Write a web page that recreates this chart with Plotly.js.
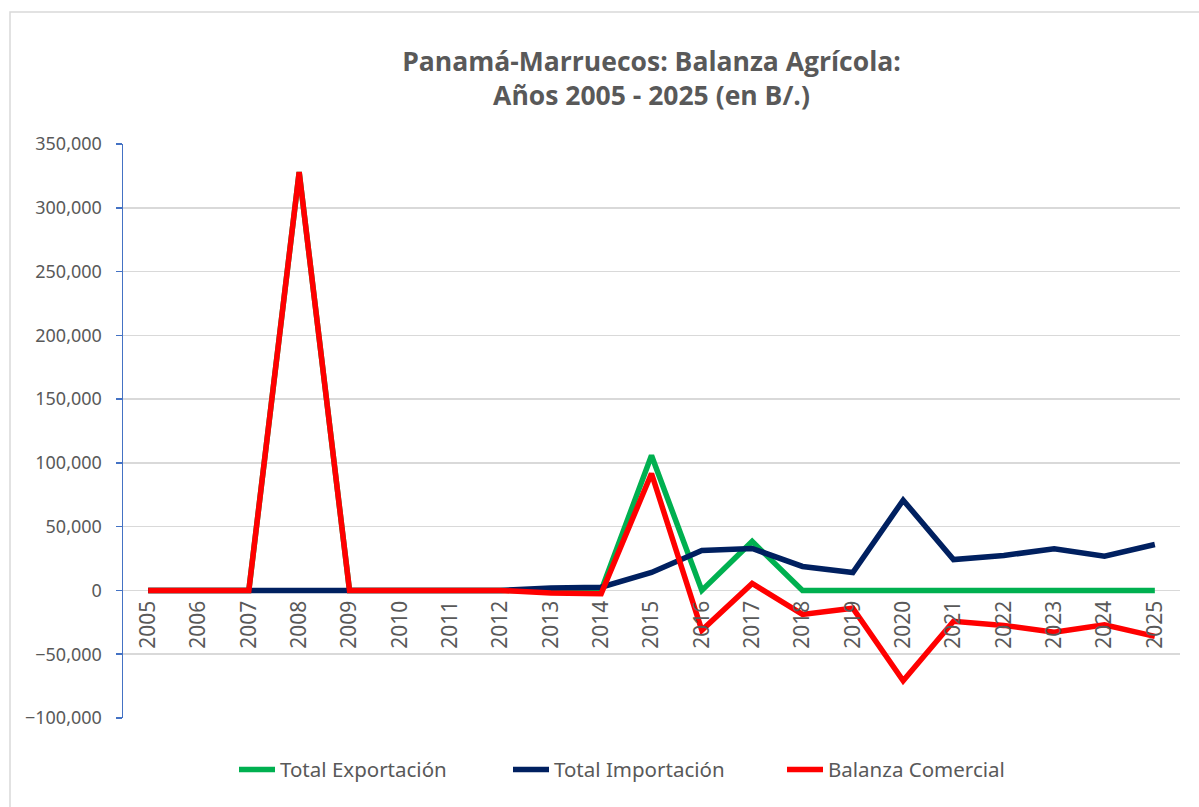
<!DOCTYPE html>
<html>
<head>
<meta charset="utf-8">
<script src="https://cdn.plot.ly/plotly-3.0.1.min.js"></script>
<style>
  html, body { margin: 0; padding: 0; background: #fff; }
  #chart { width: 1199px; height: 807px; }
</style>
</head>
<body>
<div id="chart"></div>
<script>
// years on the category axis
const years = ['2005','2006','2007','2008','2009','2010','2011','2012','2013','2014',
               '2015','2016','2017','2018','2019','2020','2021','2022','2023','2024','2025'];

// values (B/.)
const exportacion = [0, 0, 0, 328000, 0, 0, 0, 0, 0, 0,
                     105800, 0, 38400, 0, 0, 0, 0, 0, 0, 0, 0];
const importacion = [0, 0, 0, 0, 0, 0, 0, 0, 2000, 2500,
                     14100, 31300, 32900, 18800, 14000, 70800, 24200, 27400, 32700, 26900, 36000];
const balanza = [0, 0, 0, 328000, 0, 0, 0, 0, -2000, -2500,
                 91700, -31300, 5500, -18800, -14000, -70800, -24200, -27400, -32700, -26900, -36000];

const gray = '#595959';
const fontFam = '"Noto Sans", "Open Sans", sans-serif';

function serie(name, y, color) {
    return {
        x: years,
        y: y,
        name: name,
        type: 'scatter',
        mode: 'lines',
        line: {color: color, width: 5.5}
    };
}

const data = [
    serie('Total Exportación', exportacion, '#00B050'),
    serie('Total Importación', importacion, '#002060'),
    serie('Balanza Comercial', balanza, '#FF0000')
];

const yMin = -100000, yMax = 350000;
const plotW = 1199 - 123 - 19;

const layout = {
    width: 1199,
    height: 807,
    margin: {l: 123, r: 19, t: 144, b: 89},
    paper_bgcolor: '#fff',
    plot_bgcolor: '#fff',
    font: {family: fontFam, color: gray, size: 18},
    title: {
        text: '<b>Panamá-Marruecos: Balanza Agrícola:<br>Años 2005 - 2025 (en B/.)</b>',
        font: {family: '"Open Sans", sans-serif', size: 26.5, color: gray},
        x: 0.5,
        xref: 'paper',
        y: 0.912,
        yanchor: 'middle'
    },
    showlegend: true,
    legend: {
        orientation: 'h',
        x: (234 - 123) / plotW,
        xanchor: 'left',
        y: -0.09,
        yanchor: 'middle',
        font: {size: 20.5, color: gray},
        itemwidth: 36,
        entrywidth: 223,
        tracegroupgap: 0
    },
    xaxis: {
        type: 'category',
        range: [-0.5, years.length - 0.5],
        anchor: 'free',
        position: (0 - yMin) / (yMax - yMin),
        showgrid: false,
        showline: false,
        zeroline: false,
        ticks: '',
        tickangle: -90,
        ticklabelstandoff: 5,
        tickfont: {size: 21, color: gray},
        fixedrange: true
    },
    yaxis: {
        range: [yMin, yMax],
        dtick: 50000,
        tickformat: ',',
        showline: true,
        linecolor: '#4472C4',
        linewidth: 1.5,
        ticks: 'outside',
        ticklen: 6,
        tickcolor: '#4472C4',
        tickwidth: 1.5,
        ticklabelstandoff: 10,
        showgrid: true,
        gridcolor: '#D9D9D9',
        gridwidth: 1.5,
        zeroline: false,
        tickfont: {size: 18, color: gray},
        fixedrange: true
    },
    shapes: [{
        type: 'rect',
        xref: 'paper', yref: 'paper',
        x0: (10 - 123) / plotW, x1: (1210 - 123) / plotW,
        y0: (718 - 820) / 574, y1: (718 - 12) / 574,
        line: {color: '#D9D9D9', width: 1.5},
        layer: 'below'
    }]
};

Plotly.newPlot('chart', data, layout, {displayModeBar: false, staticPlot: true});
</script>
</body>
</html>
